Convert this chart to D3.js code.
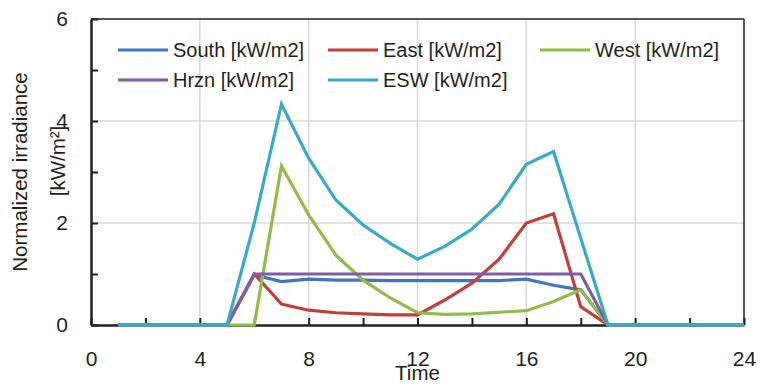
<!DOCTYPE html>
<html>
<head>
<meta charset="utf-8">
<script src="https://cdn.jsdelivr.net/npm/d3@7"></script>
<style>
  body { margin: 0; background: #fff; }
  text { font-family: "Liberation Sans", Arial, sans-serif; fill: #231f20; }
</style>
</head>
<body>
<main></main>
<script>

// data (hour 1..24)
const hours = d3.range(1, 25);
const south = [0, 0, 0, 0, 0, 0.98, 0.85, 0.9, 0.88, 0.88, 0.87, 0.87, 0.87, 0.87, 0.87, 0.9, 0.78, 0.69, 0, 0, 0, 0, 0, 0];
const east  = [0, 0, 0, 0, 0, 1.0, 0.41, 0.29, 0.24, 0.22, 0.2, 0.2, 0.49, 0.82, 1.29, 2.0, 2.18, 0.36, 0, 0, 0, 0, 0, 0];
const west  = [0, 0, 0, 0, 0, 0, 3.12, 2.16, 1.37, 0.88, 0.53, 0.24, 0.21, 0.22, 0.25, 0.28, 0.46, 0.69, 0, 0, 0, 0, 0, 0];
const hrzn  = [0, 0, 0, 0, 0, 1.0, 1.0, 1.0, 1.0, 1.0, 1.0, 1.0, 1.0, 1.0, 1.0, 1.0, 1.0, 1.0, 0, 0, 0, 0, 0, 0];
const esw   = [0, 0, 0, 0, 0, 2.0, 4.33, 3.27, 2.45, 1.96, 1.6, 1.29, 1.54, 1.88, 2.37, 3.15, 3.4, 1.7, 0, 0, 0, 0, 0, 0];

const seriesNames = ["South [kW/m2]", "East [kW/m2]", "West [kW/m2]", "Hrzn [kW/m2]", "ESW [kW/m2]"];
const seriesValues = [south, east, west, hrzn, esw];
const colors = ["#3f76bd", "#c0403c", "#93bb47", "#7d5ea6", "#3aaac6"];

const xTicks = [0, 4, 8, 12, 16, 20, 24];
const yTicks = [0, 2, 4, 6];

// dimensions
const width = 760;
const height = 385;
const margin = { top: 19, right: 16, bottom: 60, left: 91 };
const boundedWidth = width - margin.left - margin.right;
const boundedHeight = height - margin.top - margin.bottom;

const svg = d3.select("main").append("svg")
  .attr("width", width)
  .attr("height", height);

const g = svg.append("g")
  .attr("transform", `translate(${margin.left},${margin.top})`);

// scales
const xScale = d3.scaleLinear().domain([0, 24]).range([0, boundedWidth]);
const yScale = d3.scaleLinear().domain([0, 6]).range([boundedHeight, 0]);

// grid
g.append("g").selectAll("line")
  .data(xTicks.filter(d => d > 0 && d < 24))
  .join("line")
  .attr("x1", d => xScale(d)).attr("x2", d => xScale(d))
  .attr("y1", 0).attr("y2", boundedHeight)
  .attr("stroke", "#d9d9d9").attr("stroke-width", 1.5);

g.append("g").selectAll("line")
  .data(yTicks.filter(d => d > 0 && d < 6))
  .join("line")
  .attr("x1", 0).attr("x2", boundedWidth)
  .attr("y1", d => yScale(d)).attr("y2", d => yScale(d))
  .attr("stroke", "#d9d9d9").attr("stroke-width", 1.5);

// frame top/right
g.append("line")
  .attr("x1", 0).attr("x2", boundedWidth).attr("y1", 0).attr("y2", 0)
  .attr("stroke", "#231f20").attr("stroke-width", 1.5);
g.append("line")
  .attr("x1", boundedWidth).attr("x2", boundedWidth).attr("y1", 0).attr("y2", boundedHeight)
  .attr("stroke", "#231f20").attr("stroke-width", 1.5);

// axes
const xAxis = d3.axisBottom(xScale)
  .tickValues(d3.range(0, 25, 2))
  .tickSizeInner(-7).tickSizeOuter(0)
  .tickPadding(26)
  .tickFormat(d => d % 4 === 0 ? d : "");

const xg = g.append("g")
  .attr("transform", `translate(0,${boundedHeight})`)
  .call(xAxis);

const yAxis = d3.axisLeft(yScale)
  .tickValues(d3.range(0, 7, 1))
  .tickSizeInner(-7).tickSizeOuter(0)
  .tickPadding(23)
  .tickFormat(d => d % 2 === 0 ? d : "");

const yg = g.append("g").call(yAxis);

[xg, yg].forEach(a => {
  a.select(".domain").attr("stroke", "#231f20").attr("stroke-width", 2.5);
  a.selectAll(".tick line").attr("stroke", "#231f20").attr("stroke-width", 2);
  a.selectAll(".tick text").attr("font-size", 21).attr("font-family", "Liberation Sans, Arial, sans-serif").attr("fill", "#231f20");
});

// lines
const line = d3.line()
  .x((d, i) => xScale(hours[i]))
  .y(d => yScale(d));

g.append("g").selectAll("path")
  .data(seriesValues)
  .join("path")
  .attr("d", line)
  .attr("fill", "none")
  .attr("stroke", (d, i) => colors[i])
  .attr("stroke-width", 3.2)
  .attr("stroke-linejoin", "miter");

// legend
const legendPos = [[118, 50], [328, 50], [540, 50], [118, 80], [328, 80]];
const legend = svg.append("g").selectAll("g")
  .data(seriesNames)
  .join("g")
  .attr("transform", (d, i) => `translate(${legendPos[i][0]},${legendPos[i][1]})`);

legend.append("line")
  .attr("x1", 0).attr("x2", 50)
  .attr("stroke", (d, i) => colors[i])
  .attr("stroke-width", 3.2);

legend.append("text")
  .attr("x", 55)
  .attr("dy", "0.35em")
  .attr("font-size", 20)
  .text(d => d);

// axis titles
svg.append("text")
  .attr("transform", "translate(27,172) rotate(-90)")
  .attr("text-anchor", "middle")
  .attr("font-size", 20.5)
  .text("Normalized irradiance");

svg.append("text")
  .attr("transform", "translate(65,161) rotate(-90)")
  .attr("text-anchor", "middle")
  .attr("font-size", 20.5)
  .text("[kW/m²]");

svg.append("text")
  .attr("x", xScale(12) + margin.left)
  .attr("y", 380)
  .attr("text-anchor", "middle")
  .attr("font-size", 20.5)
  .text("Time");

</script>
</body>
</html>
